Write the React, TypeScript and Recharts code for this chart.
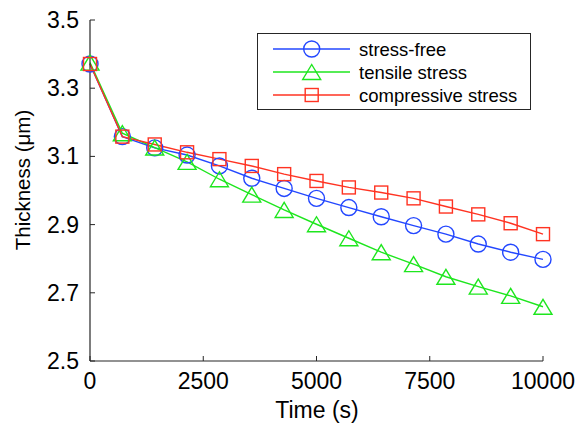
import React from 'react';
import { LineChart, Line, XAxis, YAxis, Legend } from 'recharts';

const timeS = [0, 714, 1429, 2143, 2857, 3571, 4286, 5000, 5714, 6429, 7143, 7857, 8571, 9286, 10000];
const stressFree = [3.371, 3.158, 3.125, 3.104, 3.072, 3.036, 3.006, 2.977, 2.95, 2.923, 2.897, 2.872, 2.843, 2.819, 2.798];
const tensileStress = [3.375, 3.168, 3.126, 3.084, 3.033, 2.988, 2.943, 2.901, 2.86, 2.819, 2.784, 2.747, 2.718, 2.691, 2.659];
const compressiveStress = [3.371, 3.158, 3.135, 3.112, 3.092, 3.072, 3.048, 3.028, 3.009, 2.994, 2.977, 2.953, 2.93, 2.904, 2.872];
const xTicks = [0, 2500, 5000, 7500, 10000];
const yTicks = [2.5, 2.7, 2.9, 3.1, 3.3, 3.5];
const seriesNames = ['stress-free', 'tensile stress', 'compressive stress'];

const data = timeS.map((t, i) => ({
  t,
  free: stressFree[i],
  tensile: tensileStress[i],
  comp: compressiveStress[i],
}));

const FONT = 'Liberation Sans, Arial, sans-serif';
const AX = '#262626';
const BLUE = '#2347ff';
const GREEN = '#1ee61e';
const RED = '#ff3322';
const PL = 90, PR = 543, PT = 20, PB = 361, TICK = 5;

const circle = (cx: number, cy: number, c: string, k?: any) => (
  <circle key={k} cx={cx} cy={cy} r={8} fill="none" stroke={c} strokeWidth={1.4} />
);
const tri = (cx: number, cy: number, c: string, k?: any) => (
  <path key={k} d={`M${cx},${cy - 7.5}L${cx + 9},${cy + 7.5}L${cx - 9},${cy + 7.5}Z`} fill="none" stroke={c} strokeWidth={1.4} />
);
const square = (cx: number, cy: number, c: string, k?: any) => (
  <rect key={k} x={cx - 6.5} y={cy - 6.5} width={13} height={13} fill="none" stroke={c} strokeWidth={1.4} />
);

const markers: any = { free: circle, tensile: tri, comp: square };
const colors: any = { free: BLUE, tensile: GREEN, comp: RED };

const BottomTick = (p: any) => (
  <g>
    <line x1={p.x} x2={p.x} y1={PB} y2={PB - TICK} stroke={AX} strokeWidth={1} />
    <text x={p.x} y={389} textAnchor="middle" fontSize={23} fontFamily={FONT} fill="#000">{p.payload.value}</text>
  </g>
);
const TopTick = (p: any) => (
  <line x1={p.x} x2={p.x} y1={PT} y2={PT + TICK} stroke={AX} strokeWidth={1} />
);
const LeftTick = (p: any) => (
  <g>
    <line x1={PL} x2={PL + TICK} y1={p.y} y2={p.y} stroke={AX} strokeWidth={1} />
    <text x={79} y={p.y + 8} textAnchor="end" fontSize={23} fontFamily={FONT} fill="#000">{Number(p.payload.value).toFixed(1)}</text>
  </g>
);
const RightTick = (p: any) => (
  <line x1={PR} x2={PR - TICK} y1={p.y} y2={p.y} stroke={AX} strokeWidth={1} />
);

const YTitle = () => (
  <text transform="translate(30,180) rotate(-90)" textAnchor="middle" fontSize={20.5} fontFamily={FONT} fill="#000">Thickness (μm)</text>
);
const XTitle = () => (
  <text x={317} y={418} textAnchor="middle" fontSize={23} fontFamily={FONT} fill="#000">Time (s)</text>
);

const LegendBox = (props: any) => {
  const items = [...(props.payload || [])].sort(
    (a: any, b: any) => seriesNames.indexOf(a.value) - seriesNames.indexOf(b.value)
  );
  return (
    <svg width={274} height={77} style={{ display: 'block' }}>
      <rect x={0.5} y={0.5} width={273} height={76} fill="#fff" stroke={AX} strokeWidth={1} />
      {items.map((it: any, i: number) => {
        const key = it.dataKey;
        const cy = 16 + i * 23;
        const c = colors[key];
        return (
          <g key={key}>
            <line x1={16} x2={93} y1={cy} y2={cy} stroke={c} strokeWidth={1.4} />
            {markers[key](54.7, cy, c)}
            <text x={102} y={cy + 6.5} fontSize={18.5} fontFamily={FONT} fill="#000">{it.value}</text>
          </g>
        );
      })}
    </svg>
  );
};

const makeDot = (key: string) => (p: any) => {
  if (p.cx == null || p.cy == null) return <g key={p.index} />;
  return markers[key](p.cx, p.cy, colors[key], p.index);
};

export default function App() {
  return (
    <div style={{ position: 'absolute', left: 0, top: 0, background: '#fff' }}>
      <LineChart width={580} height={430} data={data} margin={{ top: PT, right: 580 - PR, bottom: 0, left: 0 }}>
        <XAxis dataKey="t" type="number" domain={[0, 10000]} ticks={xTicks} height={69}
          tick={<BottomTick />} tickLine={false} axisLine={{ stroke: AX, strokeWidth: 1.2 }}
          label={<XTitle />} interval={0} />
        <XAxis xAxisId="top" orientation="top" dataKey="t" type="number" domain={[0, 10000]} ticks={xTicks} height={0}
          tick={<TopTick />} tickLine={false} axisLine={{ stroke: AX, strokeWidth: 1.2 }} interval={0} />
        <YAxis type="number" domain={[2.5, 3.5]} ticks={yTicks} width={PL}
          tick={<LeftTick />} tickLine={false} axisLine={{ stroke: AX, strokeWidth: 1.2 }}
          label={<YTitle />} interval={0} />
        <YAxis yAxisId="right" orientation="right" type="number" domain={[2.5, 3.5]} ticks={yTicks} width={0}
          tick={<RightTick />} tickLine={false} axisLine={{ stroke: AX, strokeWidth: 1.2 }} interval={0} />
        <Legend layout="vertical" align="center" verticalAlign="middle" content={<LegendBox />}
          wrapperStyle={{ position: 'absolute', left: 257, top: 33, width: 274, height: 77 }} />
        <Line name={seriesNames[0]} dataKey="free" stroke={BLUE} strokeWidth={1.4} dot={makeDot('free')} isAnimationActive={false} />
        <Line name={seriesNames[1]} dataKey="tensile" stroke={GREEN} strokeWidth={1.4} dot={makeDot('tensile')} isAnimationActive={false} />
        <Line name={seriesNames[2]} dataKey="comp" stroke={RED} strokeWidth={1.4} dot={makeDot('comp')} isAnimationActive={false} />
      </LineChart>
    </div>
  );
}
